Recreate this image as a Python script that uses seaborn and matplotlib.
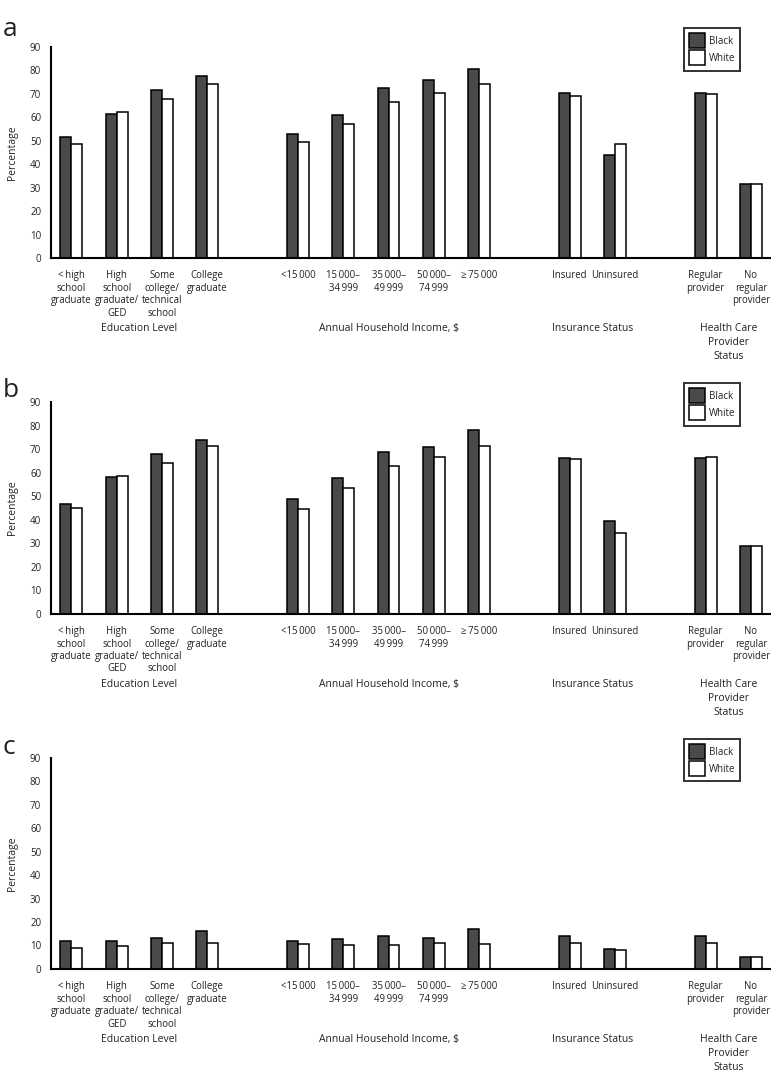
import numpy as np
import pandas as pd
import matplotlib
matplotlib.use("Agg")
import matplotlib.pyplot as plt
import seaborn as sns
from matplotlib.patches import Patch
from matplotlib.transforms import blended_transform_factory

# -------------------------------
# Data
# -------------------------------
categories = [
    "<\u2009high\nschool\ngraduate", "High\nschool\ngraduate/\nGED",
    "Some\ncollege/\ntechnical\nschool", "College\ngraduate",
    "<15\u2009000", "15\u2009000\u2013\n34\u2009999", "35\u2009000\u2013\n49\u2009999",
    "50\u2009000\u2013\n74\u2009999", "\u2265\u200975\u2009000",
    "Insured", "Uninsured",
    "Regular\nprovider", "No\nregular\nprovider",
]
group_names = ["Education Level", "Annual Household Income, $",
               "Insurance Status", "Health Care\nProvider\nStatus"]
group_sizes = [4, 5, 2, 2]
races = ["Black", "White"]

a_black = [51.8, 61.3, 71.8, 77.6, 52.8, 61.0, 72.4, 75.8, 80.6, 70.4, 43.8, 70.4, 31.6]
a_white = [48.5, 62.4, 67.8, 74.1, 49.6, 57.3, 66.4, 70.4, 74.4, 69.0, 48.6, 69.8, 31.6]
b_black = [46.7, 57.9, 67.8, 74.0, 48.7, 57.5, 68.9, 70.8, 77.9, 66.4, 39.5, 66.1, 28.8]
b_white = [45.1, 58.4, 63.9, 71.3, 44.7, 53.5, 62.7, 66.7, 71.3, 65.9, 34.2, 66.5, 28.8]
c_black = [12.1, 12.1, 13.2, 16.0, 12.1, 12.8, 13.9, 13.2, 17.0, 14.2, 8.7, 13.9, 5.1]
c_white = [8.8, 9.8, 11.2, 11.2, 10.5, 10.2, 10.4, 10.9, 10.5, 10.9, 8.2, 11.2, 5.1]

panels = [("a", a_black, a_white), ("b", b_black, b_white), ("c", c_black, c_white)]

# order with empty spacer slots between groups
order = []
group_pos = []
start = 0
for gi, n in enumerate(group_sizes):
    if gi > 0:
        order.append(" " * gi)
    group_pos.append(len(order) + (n - 1) / 2)
    order.extend(categories[start:start + n])
    start += n

sns.set_theme(style="white")
plt.rcParams["font.family"] = ["Open Sans", "DejaVu Sans"]
plt.rcParams["text.color"] = "#222222"
plt.rcParams["xtick.color"] = "black"
plt.rcParams["ytick.color"] = "black"
plt.rcParams["xtick.labelcolor"] = "#222222"
plt.rcParams["ytick.labelcolor"] = "#222222"

colors = {"Black": "#4a4a4a", "White": "white"}

fig = plt.figure(figsize=(7.71, 10.74), dpi=100)
ax_rects = [
    [0.0661, 0.7598, 0.9326, 0.1965],
    [0.0661, 0.4286, 0.9326, 0.1971],
    [0.0661, 0.0978, 0.9326, 0.1967],
]
letter_y = [0.984, 0.648, 0.316]

for (letter, blk, wht), rect, ly in zip(panels, ax_rects, letter_y):
    ax = fig.add_axes(rect)
    df = pd.DataFrame({
        "category": categories * 2,
        "race": ["Black"] * len(categories) + ["White"] * len(categories),
        "value": list(blk) + list(wht),
    })
    sns.barplot(data=df, x="category", y="value", hue="race", order=order,
                hue_order=races, palette=colors, width=0.48, edgecolor="black",
                linewidth=1.1, errorbar=None, legend=False, ax=ax)

    ax.set_xlim(-0.45, len(order) - 0.58)
    ax.set_ylim(0, 90)
    ax.set_yticks(np.arange(0, 91, 10))
    sns.despine(ax=ax)
    for sp in ["left", "bottom"]:
        ax.spines[sp].set_linewidth(1.5)
        ax.spines[sp].set_color("black")
    ax.tick_params(axis="both", direction="out", length=4.5, width=1.3)
    ax.tick_params(axis="y", labelsize=7, pad=2.5)
    ax.tick_params(axis="x", labelsize=6.9, pad=4.5)
    for t in ax.get_xticklabels():
        t.set_linespacing(1.17)
    ax.set_xlabel("")
    ax.set_ylabel("Percentage", fontsize=7.5, color="#222222")
    ax.yaxis.set_label_coords(-0.046, 0.5)

    trans = blended_transform_factory(ax.transData, ax.transAxes)
    for gx, gname in zip(group_pos, group_names):
        ax.annotate(gname, xy=(gx, 0), xycoords=trans, xytext=(0, -47),
                    textcoords="offset points", ha="center", va="top",
                    fontsize=7.5, linespacing=1.35)

    handles = [Patch(facecolor=colors[r], edgecolor="black", linewidth=1.1, label=r)
               for r in races]
    leg = ax.legend(handles=handles, loc="upper left", bbox_to_anchor=(0.88, 1.09),
                    fontsize=7, frameon=True, fancybox=False, handlelength=1.6,
                    handleheight=2.0, labelspacing=0.2, borderpad=0.55,
                    handletextpad=0.4, borderaxespad=0)
    leg.get_frame().set_edgecolor("black")
    leg.get_frame().set_linewidth(1.4)

    fig.text(0.003, ly, letter, fontsize=19, ha="left", va="top")

plt.savefig("out.png", dpi=100)
